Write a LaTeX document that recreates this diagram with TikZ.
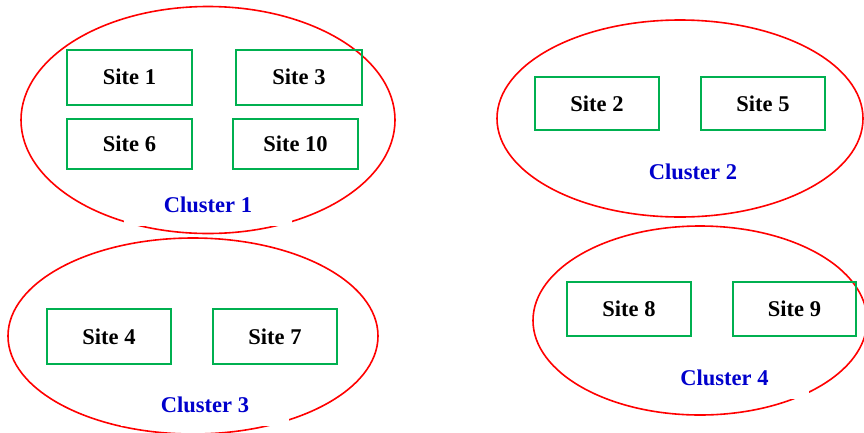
\documentclass[tikz,border=0pt]{standalone}
\usepackage{fontspec}
\setmainfont{Liberation Serif}
\usetikzlibrary{shapes.geometric}
\definecolor{ringred}{RGB}{255,0,0}
\definecolor{sitegreen}{RGB}{0,176,80}
\definecolor{labelblue}{RGB}{0,0,204}
\begin{document}
\begin{tikzpicture}[x=1pt,y=-1pt,
  cluster/.style={draw=ringred, line width=1.6pt, ellipse, inner sep=0pt},
  sitebox/.style={draw=sitegreen, line width=2pt, inner sep=0pt,
    font=\fontsize{22.5}{26}\selectfont\bfseries},
  clabel/.style={fill=white, inner sep=0pt, minimum width=168pt,
    minimum height=42pt, text=labelblue,
    font=\fontsize{22.5}{26}\selectfont\bfseries}]
\useasboundingbox (0,0) rectangle (864,432);
\clip (0,0) rectangle (864,432);

% cluster outlines
\node[cluster, minimum width=374pt, minimum height=227pt] (c1) at (208,120) {};
\node[cluster, minimum width=366pt, minimum height=197pt] (c2) at (680,118.5) {};
\node[cluster, minimum width=370pt, minimum height=196pt] (c3) at (193,336) {};
\node[cluster, minimum width=334pt, minimum height=189pt] (c4) at (700,320.5) {};

% cluster captions (white backing)
\node[clabel] (l1) at (208,205) {Cluster 1};
\node[clabel] (l2) at (693,172) {Cluster 2};
\node[clabel] (l3) at (205,405) {Cluster 3};
\node[clabel] (l4) at (724.5,378) {Cluster 4};

% sites
\node[sitebox, minimum width=125pt, minimum height=55pt] (s1) at (129.5,77.5) {\raisebox{2pt}{Site 1}};
\node[sitebox, minimum width=126pt, minimum height=55pt] (s3) at (299,77.5) {\raisebox{2pt}{Site 3}};
\node[sitebox, minimum width=125pt, minimum height=50pt] (s6) at (129.5,144) {Site 6};
\node[sitebox, minimum width=125pt, minimum height=50pt] (s10) at (295.5,144) {Site 10};
\node[sitebox, minimum width=124pt, minimum height=53pt] (s2) at (597,103.5) {Site 2};
\node[sitebox, minimum width=124pt, minimum height=53pt] (s5) at (763,103.5) {Site 5};
\node[sitebox, minimum width=124pt, minimum height=55pt] (s4) at (109,336.5) {Site 4};
\node[sitebox, minimum width=124pt, minimum height=55pt] (s7) at (275,336.5) {Site 7};
\node[sitebox, minimum width=124pt, minimum height=54pt] (s8) at (629,309) {Site 8};
\node[sitebox, minimum width=123pt, minimum height=54pt] (s9) at (794.5,309) {Site 9};
\end{tikzpicture}
\end{document}
